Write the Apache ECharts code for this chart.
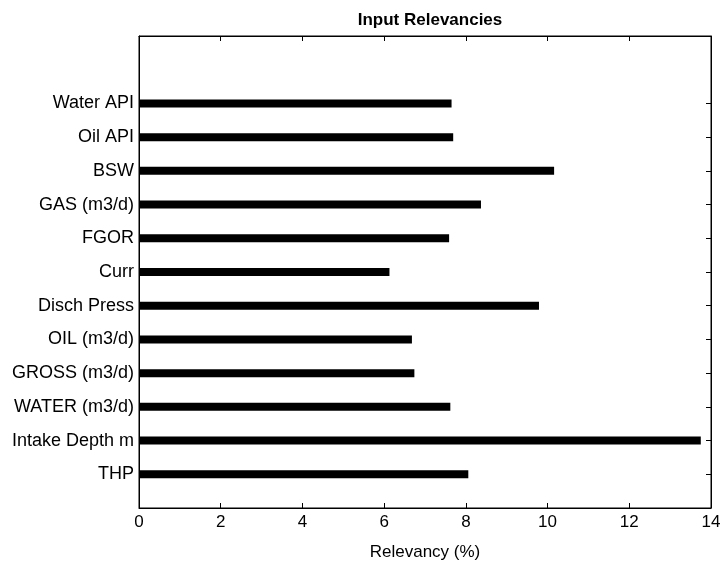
<!DOCTYPE html>
<html>
<head>
<meta charset="utf-8">
<script src="https://cdn.jsdelivr.net/npm/echarts@6/dist/echarts.min.js"></script>
<style>html,body{margin:0;padding:0;background:#fff}#c{width:723px;height:561px}</style>
</head>
<body>
<div id="c"></div>
<script>
const inputNames = ['THP', 'Intake Depth m', 'WATER (m3/d)', 'GROSS (m3/d)', 'OIL (m3/d)', 'Disch Press', 'Curr', 'FGOR', 'GAS (m3/d)', 'BSW', 'Oil API', 'Water API'];
const relevancy = [8.06, 13.75, 7.62, 6.74, 6.68, 9.79, 6.13, 7.59, 8.37, 10.16, 7.69, 7.65];
const xTicks = [0, 2, 4, 6, 8, 10, 12, 14];

// pad with empty slots so category positions sit at 1..12 on a 0..14 scale
const cats = [' '].concat(inputNames, ['  ', '   ']);
const vals = [null].concat(relevancy, [null, null]);
const isReal = (i) => i >= 1 && i <= inputNames.length;

const font = 'Liberation Sans, Arial, sans-serif';
const xMin = xTicks[0], xMax = xTicks[xTicks.length - 1];
const lineStyle = { show: true, onZero: false, lineStyle: { color: '#000' } };
const tickStyle = { show: true, inside: true, length: 5, lineStyle: { color: '#000' } };
function tickOnlyX(pos) {
  return { type: 'value', min: xMin, max: xMax, interval: 2, position: pos,
    axisLine: lineStyle, axisTick: tickStyle, axisLabel: { show: false }, splitLine: { show: false } };
}
function tickOnlyY(pos) {
  return { type: 'category', data: cats, boundaryGap: false, position: pos,
    axisLine: lineStyle, axisTick: Object.assign({}, tickStyle, { interval: (i) => isReal(i) }),
    axisLabel: { show: false }, splitLine: { show: false } };
}

const chart = echarts.init(document.getElementById('c'));
chart.setOption({
  animation: false,
  backgroundColor: '#fff',
  title: {
    text: 'Input Relevancies', left: 425, textAlign: 'center', top: 7,
    textStyle: { fontFamily: font, fontSize: 17, fontWeight: 'bold', color: '#000' }
  },
  grid: { left: 139, right: 12, top: 36, bottom: 53, show: true, borderColor: '#000', borderWidth: 1,
    outerBoundsMode: 'none', containLabel: false },
  xAxis: [{
    type: 'value', min: xMin, max: xMax, interval: 2, position: 'bottom',
    name: 'Relevancy (%)', nameLocation: 'middle', nameGap: 36,
    nameTextStyle: { fontFamily: font, fontSize: 17, color: '#000' },
    axisLine: lineStyle,
    axisTick: tickStyle,
    axisLabel: { fontFamily: font, fontSize: 17, color: '#000', margin: 6 },
    splitLine: { show: false }
  }, tickOnlyX('top')],
  yAxis: [{
    type: 'category', data: cats, boundaryGap: false, position: 'left',
    axisLine: lineStyle,
    axisTick: Object.assign({}, tickStyle, { interval: (i) => isReal(i) }),
    axisLabel: { interval: 0, fontFamily: font, fontSize: 18, color: '#000', margin: 5 },
    splitLine: { show: false }
  }, tickOnlyY('right')],
  series: [{
    type: 'bar', xAxisIndex: 0, yAxisIndex: 0, data: vals, barWidth: 8,
    itemStyle: { color: '#000' }
  }]
});
</script>
</body>
</html>
